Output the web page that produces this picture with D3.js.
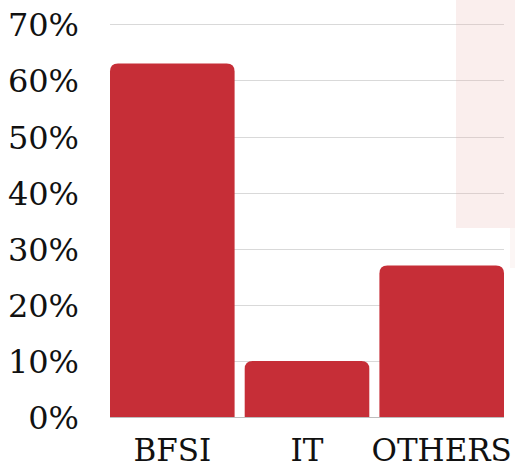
<!DOCTYPE html>
<html>
<head>
<meta charset="utf-8">
<script src="https://cdn.jsdelivr.net/npm/d3@7"></script>
<style>
  html, body { margin: 0; padding: 0; background: #fff; }
  svg { display: block; }
  text { font-family: "DejaVu Serif", serif; fill: #111; }
</style>
</head>
<body>
<svg id="chart" width="515" height="469"></svg>
<script>
const categories = ["BFSI", "IT", "OTHERS"];
const values = [63, 10, 27];
const yTicks = [0, 10, 20, 30, 40, 50, 60, 70];

(function () {
const svg = d3.select("#chart");
const mLeft = 110, mRight = 504, mTop = 24.3, mBottom = 417;

const x = d3.scaleBand().domain(categories).range([mLeft, mRight]).paddingInner(0.075).paddingOuter(0);
const y = d3.scaleLinear().domain([0, 70]).range([mBottom, mTop]);

// gridlines
svg.append("g").selectAll("line").data(yTicks).join("line")
  .attr("x1", mLeft).attr("x2", mRight)
  .attr("y1", d => Math.round(y(d)) + 0.5).attr("y2", d => Math.round(y(d)) + 0.5)
  .attr("stroke", d => d === 0 ? "#bdbdbd" : "#d9d9d9").attr("stroke-width", 1.2);

// decorative pink panel
svg.append("rect").attr("x", 456).attr("y", 0).attr("width", 59).attr("height", 228)
  .attr("fill", "#e9b3ae").attr("opacity", 0.22);
svg.append("rect").attr("x", 510).attr("y", 228).attr("width", 5).attr("height", 40)
  .attr("fill", "#e9b3ae").attr("opacity", 0.12);

// bars with rounded top corners
const r = 8;
function barPath(d, i) {
  const x0 = x(categories[i]), w = x.bandwidth(), y0 = y(d), y1 = y(0);
  return `M${x0},${y1} L${x0},${y0 + r} Q${x0},${y0} ${x0 + r},${y0} L${x0 + w - r},${y0} Q${x0 + w},${y0} ${x0 + w},${y0 + r} L${x0 + w},${y1} Z`;
}
svg.append("g").selectAll("path").data(values).join("path")
  .attr("d", (d, i) => barPath(d, i))
  .attr("fill", "#c62e37");

// y labels
svg.append("g").selectAll("text").data(yTicks).join("text")
  .attr("x", 79).attr("y", d => y(d) + 12)
  .attr("text-anchor", "end")
  .attr("font-size", 32)
  .text(d => d + "%");

// x labels
svg.append("g").selectAll("text").data(categories).join("text")
  .attr("x", d => x(d) + x.bandwidth() / 2).attr("y", 461)
  .attr("text-anchor", "middle")
  .attr("font-size", 31)
  .text(d => d);
})();
</script>
</body>
</html>
